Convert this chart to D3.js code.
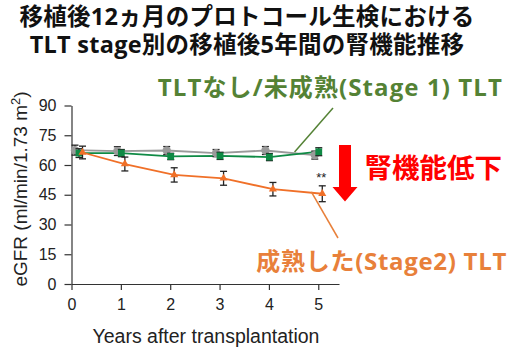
<!DOCTYPE html>
<html>
<head>
<meta charset="utf-8">
<script src="https://cdn.jsdelivr.net/npm/d3@7"></script>
<style>
  html, body { margin: 0; padding: 0; background: #fff; }
  svg { display: block; }
</style>
</head>
<body>
<svg id="chart" width="524" height="349"></svg>
<script>
// eGFR by year after transplantation, mean ± error per TLT group
const years = [0, 1, 2, 3, 4, 5];
const greyMean   = [67.5, 67.0, 67.3, 66.0, 67.3, 65.0];
const greyErr    = [2.5, 2.2, 2.0, 1.8, 2.0, 2.0];
const greenMean  = [66.0, 66.0, 64.3, 64.6, 64.0, 66.7];
const greenErr   = [2.2, 1.8, 1.6, 1.8, 1.8, 2.0];
const orangeMean = [66.3, 60.5, 55.0, 53.3, 47.8, 45.5];
const orangeErr  = [3.2, 3.5, 3.6, 3.5, 3.4, 4.0];

const yTicks = [0, 15, 30, 45, 60, 75, 90];
const xTicks = [0, 1, 2, 3, 4, 5];

const titleLines = ["移植後12ヵ月のプロトコール生検における", "TLT stage別の移植後5年間の腎機能推移"];
const greenLabel = "TLTなし/未成熟(Stage 1) TLT";
const orangeLabel = "成熟した(Stage2) TLT";
const declineLabel = "腎機能低下";
const sigLabel = "**";

// leader anchors on the lines: [year, eGFR]
const greenAnchor = [4.52, 66.6];
const orangeAnchor = [4.86, 46.4];

const svg = d3.select("#chart");
const axisFont = "'Liberation Sans', Arial, Helvetica, sans-serif";
const jpFont = "'Open Sans', 'Noto Sans CJK JP', sans-serif";

const x = d3.scaleLinear().domain([0, 5.42]).range([71.5, 339]);
const y = d3.scaleLinear().domain([0, 90]).range([284, 105.5]);

// title
svg.append("g").selectAll("text").data(titleLines).join("text")
  .attr("x", 247).attr("y", (d, i) => 25 + i * 28)
  .attr("text-anchor", "middle")
  .attr("font-family", jpFont).attr("font-weight", 700)
  .attr("font-size", 23.5).attr("letter-spacing", 0.25).attr("fill", "#111")
  .text(d => d);

// axes
const gy = svg.append("g").attr("transform", `translate(${x(0)},0)`)
  .call(d3.axisLeft(y).tickValues(yTicks).tickSize(7).tickSizeOuter(0).tickPadding(8));
const gx = svg.append("g").attr("transform", `translate(0,${y(0)})`)
  .call(d3.axisBottom(x).tickValues(xTicks).tickFormat(d3.format("d"))
    .tickSize(6).tickSizeOuter(0).tickPadding(9));
[gy, gx].forEach(g => {
  g.selectAll("path,line").attr("stroke", "#333").attr("stroke-width", 1.2);
  g.selectAll("text").attr("font-family", axisFont).attr("font-size", 16).attr("fill", "#222");
});

svg.append("text")
  .attr("transform", "translate(27,189) rotate(-90)")
  .attr("text-anchor", "middle")
  .attr("font-family", axisFont).attr("font-size", 19).attr("fill", "#222")
  .call(t => {
    t.append("tspan").text("eGFR (ml/min/1.73 m");
    t.append("tspan").attr("baseline-shift", "super").attr("font-size", 13).text("2");
    t.append("tspan").text(")");
  });

svg.append("text")
  .attr("x", 206).attr("y", 343)
  .attr("text-anchor", "middle")
  .attr("font-family", axisFont).attr("font-size", 19.5).attr("fill", "#222")
  .text("Years after transplantation");

// series
const series = [
  { mean: greyMean, err: greyErr, color: "#9a9a9a", dx: -3.5, shape: d3.symbolCircle, size: 55 },
  { mean: greenMean, err: greenErr, color: "#0f8a45", dx: 0.5, shape: d3.symbolSquare, size: 46 },
  { mean: orangeMean, err: orangeErr, color: "#f07028", dx: 4, shape: d3.symbolTriangle, size: 28 }
];
// year 0 points sit just right of the y axis
const firstShift = 7;
const px = (s, i) => x(years[i]) + s.dx + (i === 0 ? firstShift : 0);

series.forEach(s => {
  const line = d3.line().x((d, i) => px(s, i)).y(d => y(d));
  svg.append("path").datum(s.mean)
    .attr("d", line).attr("fill", "none")
    .attr("stroke", s.color).attr("stroke-width", 1.8);
});

series.forEach(s => {
  const g = svg.append("g");
  const eb = g.selectAll("g.eb").data(s.mean).join("g").attr("class", "eb");
  eb.append("line")
    .attr("x1", (d, i) => px(s, i)).attr("x2", (d, i) => px(s, i))
    .attr("y1", (d, i) => y(d - s.err[i])).attr("y2", (d, i) => y(d + s.err[i]))
    .attr("stroke", "#222").attr("stroke-width", 1.3);
  [-1, 1].forEach(sign => {
    eb.append("line")
      .attr("x1", (d, i) => px(s, i) - 3.5).attr("x2", (d, i) => px(s, i) + 3.5)
      .attr("y1", (d, i) => y(d + sign * s.err[i])).attr("y2", (d, i) => y(d + sign * s.err[i]))
      .attr("stroke", "#222").attr("stroke-width", 1.3);
  });
  g.selectAll("path.mk").data(s.mean).join("path").attr("class", "mk")
    .attr("d", d3.symbol(s.shape, s.size))
    .attr("transform", (d, i) => `translate(${px(s, i)},${y(d)})`)
    .attr("fill", s.color);
});

// significance mark
svg.append("text")
  .attr("x", px(series[2], 5) - 1).attr("y", y(orangeMean[5] + orangeErr[5]) - 4)
  .attr("text-anchor", "middle")
  .attr("font-family", axisFont).attr("font-size", 13).attr("fill", "#222")
  .text(sigLabel);

// annotation leaders and labels
const greenText = "#548235", orangeText = "#e8803a";
svg.append("line")
  .attr("x1", x(greenAnchor[0])).attr("y1", y(greenAnchor[1]))
  .attr("x2", 333).attr("y2", 108)
  .attr("stroke", greenText).attr("stroke-width", 1.5);
svg.append("line")
  .attr("x1", x(orangeAnchor[0])).attr("y1", y(orangeAnchor[1]))
  .attr("x2", 338).attr("y2", 238)
  .attr("stroke", orangeText).attr("stroke-width", 1.5);

svg.append("text")
  .attr("x", 503).attr("y", 96)
  .attr("text-anchor", "end")
  .attr("font-family", jpFont).attr("font-weight", 700)
  .attr("font-size", 24).attr("letter-spacing", 1.1).attr("fill", greenText)
  .text(greenLabel);

svg.append("text")
  .attr("x", 507).attr("y", 270)
  .attr("text-anchor", "end")
  .attr("font-family", jpFont).attr("font-weight", 700)
  .attr("font-size", 24).attr("letter-spacing", 0.7).attr("fill", orangeText)
  .text(orangeLabel);

svg.append("text")
  .attr("x", 502).attr("y", 178)
  .attr("text-anchor", "end")
  .attr("font-family", jpFont).attr("font-weight", 700)
  .attr("font-size", 27.5).attr("fill", "#ff0000")
  .text(declineLabel);

// downward arrow
svg.append("path")
  .attr("d", "M339,145 L351,145 L351,187 L357.5,187 L345,201.5 L332.5,187 L339,187 Z")
  .attr("fill", "#ff0000");
</script>
</body>
</html>
